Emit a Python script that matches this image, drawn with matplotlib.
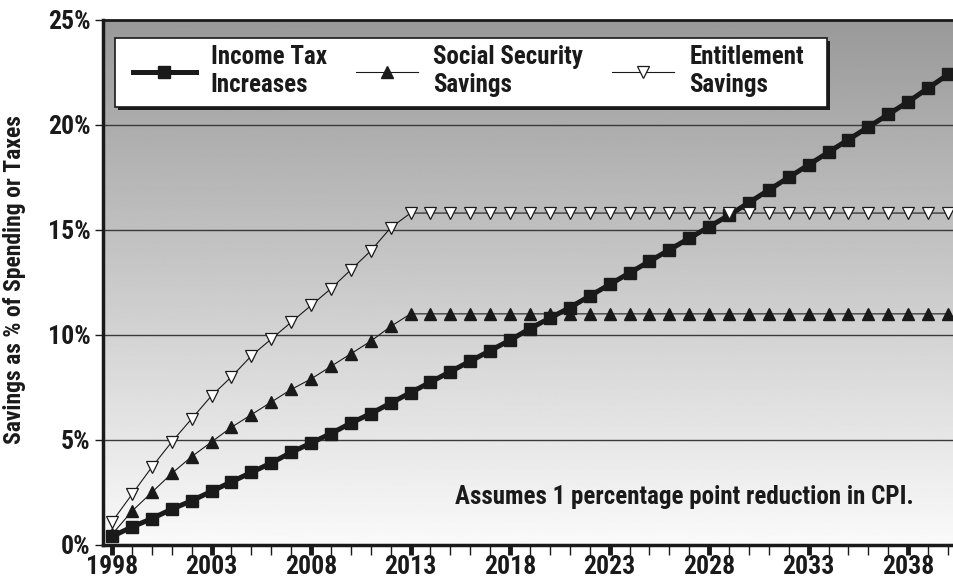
import numpy as np
import matplotlib
matplotlib.use("Agg")
import matplotlib.pyplot as plt
import matplotlib.transforms as mtransforms
from matplotlib.lines import Line2D
from matplotlib.patches import Rectangle
from matplotlib.ticker import MultipleLocator, FuncFormatter, FixedLocator

plt.rcParams['font.family'] = ['Roboto Condensed', 'Archivo Narrow', 'Barlow Condensed', 'DejaVu Sans']
plt.rcParams['font.weight'] = 'bold'

years = list(range(1998, 2041))

income_tax = [0.4, 0.85, 1.25, 1.7, 2.1, 2.55, 3.0, 3.45, 3.9, 4.4,
              4.85, 5.3, 5.8, 6.25, 6.75, 7.25, 7.75, 8.25, 8.75, 9.25,
              9.75, 10.3, 10.8, 11.3, 11.85, 12.4, 12.95, 13.5, 14.05, 14.6,
              15.15, 15.7, 16.3, 16.9, 17.5, 18.1, 18.7, 19.3, 19.9, 20.5,
              21.1, 21.75, 22.4]

social_security = [0.5, 1.6, 2.5, 3.4, 4.2, 4.9, 5.6, 6.2, 6.8, 7.4,
                   7.9, 8.5, 9.1, 9.7, 10.4] + [11.0] * 28

entitlement = [1.1, 2.4, 3.7, 4.9, 6.0, 7.1, 8.0, 9.0, 9.8, 10.6,
               11.4, 12.2, 13.1, 14.0, 15.1] + [15.8] * 28

labels = ["Income Tax\nIncreases", "Social Security\nSavings", "Entitlement\nSavings"]
ylabel = "Savings as % of Spending or Taxes"
note = "Assumes 1 percentage point reduction in CPI."
major_years = list(range(1998, 2041, 5))

DARK = '#1a1a1a'

fig = plt.figure(figsize=(9.54, 5.84), dpi=100)
ax = fig.add_axes([0.108, 0.067, 0.892, 0.899])

# gradient background
grad = np.linspace(0.98, 0.60, 256).reshape(-1, 1)
ax.imshow(grad, extent=[0, 1, 0, 1], transform=ax.transAxes, cmap='gray',
          vmin=0, vmax=1, aspect='auto', origin='lower', zorder=0)

ax.set_xlim(1997.55, 2040.3)
ax.set_ylim(0, 25)

for yv in range(5, 25, 5):
    ax.axhline(yv, color='#3a3a3a', lw=1.0, zorder=1)

ax.plot(years, income_tax, color=DARK, lw=3.6, marker='s', ms=9,
        mfc=DARK, mec=DARK, zorder=3)
ax.plot(years, social_security, color=DARK, lw=0.8, marker='^', ms=8.5,
        mfc=DARK, mec=DARK, zorder=4)
ax.plot(years, entitlement, color=DARK, lw=0.8, marker='v', ms=9,
        mfc='white', mec=DARK, mew=0.9, zorder=4)

ax.xaxis.set_major_locator(FixedLocator(major_years))
ax.xaxis.set_minor_locator(MultipleLocator(1))
ax.yaxis.set_major_locator(MultipleLocator(5))
ax.yaxis.set_major_formatter(FuncFormatter(lambda v, p: f"{int(v)}%"))
ax.tick_params(axis='x', which='major', direction='out', length=7, width=3.5,
               color=DARK, labelsize=18.5, pad=0)
ax.tick_params(axis='x', which='minor', direction='out', length=7, width=1.0,
               color=DARK)
ax.tick_params(axis='y', which='major', direction='out', length=6, width=1.0,
               color=DARK, labelsize=18.5, pad=3)
for lab in ax.get_xticklabels() + ax.get_yticklabels():
    lab.set_fontweight('bold')
    lab.set_color(DARK)

for s in ['left', 'bottom']:
    ax.spines[s].set_linewidth(2.5)
    ax.spines[s].set_color(DARK)
ax.spines['top'].set_linewidth(2.0)
ax.spines['top'].set_color(DARK)
ax.spines['right'].set_visible(False)

ax.set_ylabel(ylabel, fontsize=17, fontweight='bold', color=DARK)
ax.yaxis.set_label_coords(-0.0905, 0.505)

ax.text(2038.3, 2.3, note, ha='right', va='center', fontsize=18,
        fontweight='bold', color=DARK, zorder=5)

# legend box with dark drop shadow
x0, y0, w, h = 0.0141, 0.834, 0.8367, 0.1317
shadow_tr = mtransforms.offset_copy(ax.transAxes, fig=fig, x=3, y=-3, units='dots')
ax.add_patch(Rectangle((x0, y0), w, h, transform=shadow_tr, facecolor=DARK,
                       edgecolor=DARK, lw=0, zorder=6, clip_on=False))
ax.add_patch(Rectangle((x0, y0), w, h, transform=ax.transAxes, facecolor='white',
                       edgecolor=DARK, lw=1.2, zorder=7, clip_on=False))

handles = [
    Line2D([], [], color=DARK, lw=3.6, marker='s', ms=9),
    Line2D([], [], color=DARK, lw=0.8, marker='^', ms=8.5),
    Line2D([], [], color=DARK, lw=0.8, marker='v', ms=9, mfc='white', mew=0.9),
]
leg = ax.legend(handles, labels, ncol=3, loc='center left',
                bbox_to_anchor=(0.0353, y0 + 0.003, 0.7885, h), mode='expand',
                fontsize=18, frameon=False,
                handlelength=2.5, handletextpad=0.6, columnspacing=1.0,
                borderpad=0.0, borderaxespad=0, labelspacing=0.2)
leg.set_zorder(8)
for t in leg.get_texts():
    t.set_fontweight('bold')
    t.set_color(DARK)

fig.savefig("out.png", dpi=100)
